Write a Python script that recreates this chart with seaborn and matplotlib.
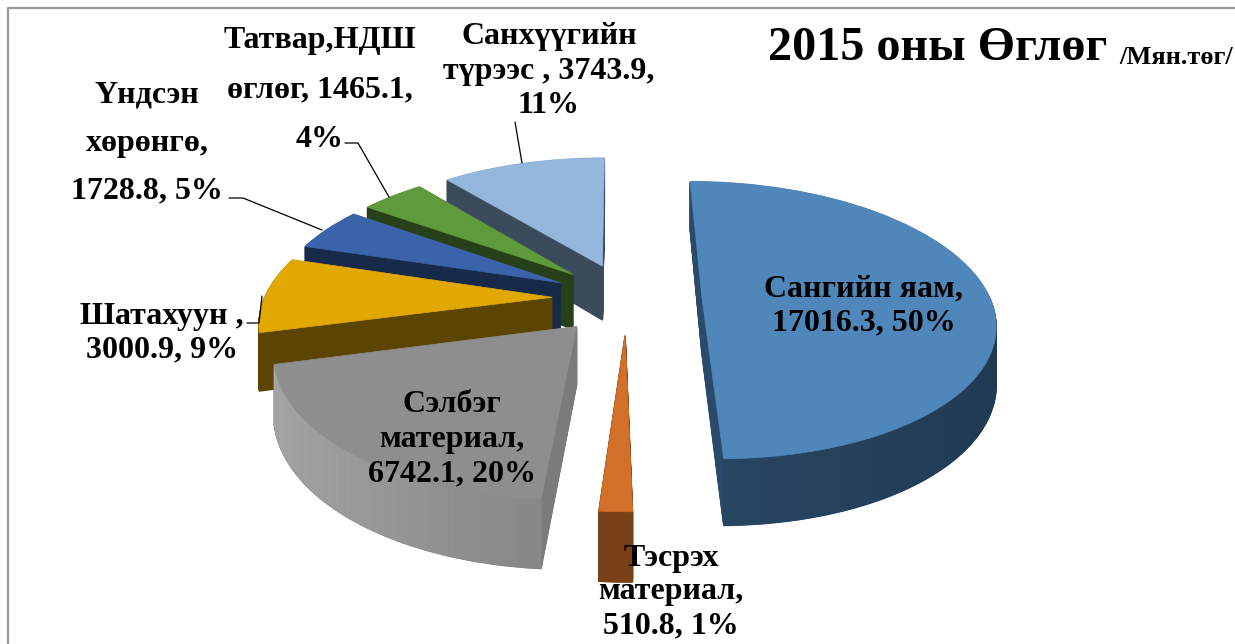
import numpy as np
import matplotlib
matplotlib.use('Agg')
import matplotlib.pyplot as plt
import seaborn as sns
from matplotlib.transforms import Transform
from matplotlib.colors import to_rgb

names = ['Сангийн яам', 'Тэсрэх материал', 'Сэлбэг материал', 'Шатахуун',
         'Үндсэн хөрөнгө', 'Татвар,НДШ өглөг', 'Санхүүгийн түрээс']
values = [17016.3, 510.8, 6742.1, 3000.9, 1728.8, 1465.1, 3743.9]
percents = [50, 1, 20, 9, 5, 4, 11]
title = '2015 оны Өглөг'
unit = '/Мян.төг/'

top_colors = ['#4f87bb', '#d2702a', '#8e8e8e', '#e0a800', '#3a63a9', '#5f9a3c', '#95b6dd']
cut_colors = ['#2a4a6b', '#7a4018', '#7b7b7b', '#5b4500', '#172a4a', '#28401a', '#3c4b5b']
wall_left = ['#2f5374', '#7a4018', '#a6a6a6', '#5b4500', '#172a4a', '#28401a', '#3c4b5b']
wall_right = ['#1f3950', '#7a4018', '#636363', '#5b4500', '#172a4a', '#28401a', '#3c4b5b']
explode = [0.26, 0.26, 0.265, 0.26, 0.26, 0.26, 0.26]
draw_order = [6, 5, 4, 3, 0, 1, 2]

# camera of the tilted pie, pixels of the picture
XV, YH, F, H, K, X0 = 617, -542, 288, 840, 0.161, 0.035
DEPTH = 56
START = 90


class Persp(Transform):
    input_dims = 2
    output_dims = 2

    def __init__(self, drop=0):
        super().__init__()
        self.drop = drop

    def transform_non_affine(self, xy):
        xy = np.asarray(xy, dtype=float)
        z = 1 + K * xy[:, 1]
        return np.column_stack([XV + F * (xy[:, 0] + X0) / z, YH + (H + self.drop) / z])


sns.set_theme(style='white')
plt.rcParams['font.family'] = ['Liberation Serif', 'DejaVu Serif']
plt.rcParams['font.weight'] = 'bold'

fig = plt.figure(figsize=(12.35, 6.44), dpi=100, facecolor='white')
ax = fig.add_axes([0, 0, 1, 1])

for d in np.arange(DEPTH, -1, -1):
    wedges = ax.pie(values, explode=explode, startangle=START, counterclock=False,
                    colors=cut_colors if d > 0 else top_colors, normalize=True)[0]
    for i, w in enumerate(wedges):
        w.set_transform(Persp(d) + ax.transData)
        w.set_zorder(draw_order.index(i) + (1.9 if d == 0 else 1.0))
        w.set_linewidth(1.0 if d > 0 else 0.5)
        w.set_edgecolor(cut_colors[i] if d > 0 else top_colors[i])

# outer walls, shaded along the rim
shares = np.array(values) / sum(values) * 360
ends = START - np.cumsum(shares)
for i in range(len(values)):
    t2 = ends[i] + shares[i]
    mid = np.radians(t2 - shares[i] / 2)
    ox, oy = explode[i] * np.cos(mid), explode[i] * np.sin(mid)
    ts = np.linspace(ends[i], t2, 60)
    c0, c1 = np.array(to_rgb(wall_left[i])), np.array(to_rgb(wall_right[i]))
    for a, b in zip(ts[:-1], ts[1:]):
        if np.sin(np.radians((a + b) / 2)) > 0:
            continue
        rim = np.array([[ox + np.cos(np.radians(t)), oy + np.sin(np.radians(t))] for t in (a, b)])
        up, lo = Persp(0).transform(rim), Persp(DEPTH).transform(rim)
        frac = (np.cos(np.radians(a)) + 1) / 2
        c = c0 + (c1 - c0) * frac
        ax.fill([up[0, 0], up[1, 0], lo[1, 0], lo[0, 0]], [up[0, 1], up[1, 1], lo[1, 1], lo[0, 1]],
                color=c, lw=0.6, zorder=draw_order.index(i) + 1.5)

ax.set_aspect('auto')
ax.set_xlim(0, 1235)
ax.set_ylim(644, 0)
ax.set_axis_off()

# frame
ax.plot([8, 8, 1235], [644, 8, 8], color='#9a9a9a', lw=1.6, zorder=10)

# leader lines
leaders = [([515, 522], [122, 163]), ([345, 358, 389], [143, 143, 197]),
           ([229, 243, 322], [198, 198, 230]), ([247, 259, 262], [323, 323, 296])]
for lx, ly in leaders:
    ax.plot(lx, ly, color='black', lw=0.9, zorder=12)

fs = 23
lab = dict(ha='center', va='center', fontsize=fs, fontweight='bold', color='black', zorder=20)
ax.text(864, 306, f'{names[0]},\n{values[0]}, {percents[0]}%', linespacing=1.25, **lab)
ax.text(671, 592, f'Тэсрэх\nматериал,\n{values[1]}, {percents[1]}%', linespacing=1.22, **lab)
ax.text(452, 439, f'Сэлбэг\nматериал,\n{values[2]}, {percents[2]}%', linespacing=1.25, **lab)
ax.text(162, 333, f'{names[3]} ,\n{values[3]}, {percents[3]}%', linespacing=1.2, **lab)
ax.text(147, 143, f'Үндсэн\nхөрөнгө,\n{values[4]}, {percents[4]}%', linespacing=1.85, **lab)
ax.text(320, 90, f'Татвар,НДШ\nөглөг, {values[5]},\n{percents[5]}%', linespacing=1.92, **lab)
ax.text(549, 71, f'Санхүүгийн\nтүрээс , {values[6]},\n{percents[6]}%', linespacing=1.25, **lab)

ax.text(768, 48, title, ha='left', va='center', fontsize=34.7, fontweight='bold', color='black', zorder=20)
ax.text(1119, 57, unit, ha='left', va='center', fontsize=19, fontweight='bold', color='black', zorder=20)

fig.savefig('out.png', dpi=100, facecolor='white')
